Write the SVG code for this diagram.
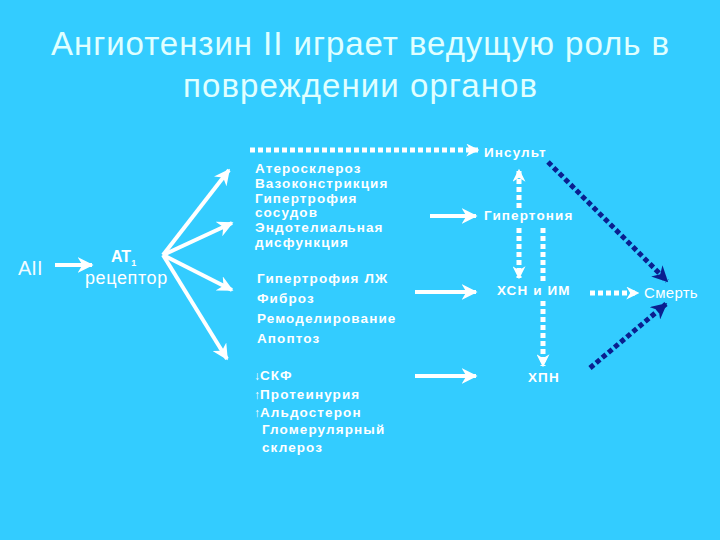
<svg xmlns="http://www.w3.org/2000/svg" width="720" height="540" viewBox="0 0 720 540">
<defs>
<marker id="wh" viewBox="0 0 10 10" refX="9" refY="5" markerWidth="4" markerHeight="4" markerUnits="strokeWidth" orient="auto"><path d="M0,0 L10,5 L0,10 L3,5 z" fill="#ffffff"/></marker>
<marker id="wh2" viewBox="0 0 10 10" refX="9" refY="5" markerWidth="2.6" markerHeight="2.6" markerUnits="strokeWidth" orient="auto"><path d="M0,0 L10,5 L0,10 L3,5 z" fill="#ffffff"/></marker>
<marker id="bl" viewBox="0 0 10 10" refX="9" refY="5" markerWidth="3.2" markerHeight="3.2" markerUnits="strokeWidth" orient="auto"><path d="M0,0 L10,5 L0,10 L3,5 z" fill="#0a1f8f"/></marker>
</defs>
<style>
.t{font-family:"Liberation Sans",Arial,sans-serif;fill:#ffffff}
.b{font-size:13.5px;font-weight:bold;letter-spacing:1.1px}
.title{font-family:"Liberation Sans",Arial,sans-serif;font-size:33px;fill:#e0ffff;text-anchor:middle}
.a{stroke:#ffffff;stroke-width:4;fill:none;marker-end:url(#wh)}
.d{stroke:#ffffff;stroke-width:5;stroke-dasharray:5 3;fill:none;marker-end:url(#wh2)}
.dv{stroke:#ffffff;stroke-width:5;stroke-dasharray:5 3;fill:none}
.n{stroke:#0a1f8f;stroke-width:5;stroke-dasharray:5 3;fill:none;marker-end:url(#bl)}
</style>
<rect width="720" height="540" fill="#33ccff"/>
<g id="title">
<text class="title" x="360" y="55" textLength="618" lengthAdjust="spacing">Ангиотензин II играет ведущую роль в</text>
<text class="title" x="360" y="97" textLength="354" lengthAdjust="spacing">повреждении органов</text>
</g>
<g id="connectors">
<line class="a" x1="55" y1="265" x2="92" y2="265"/>
<line class="a" x1="163" y1="255" x2="229" y2="170"/>
<line class="a" x1="163" y1="255" x2="232" y2="223"/>
<line class="a" x1="163" y1="255" x2="232" y2="290"/>
<line class="a" x1="163" y1="255" x2="227" y2="359"/>
<line class="d" x1="250" y1="150" x2="478" y2="150"/>
<line class="a" x1="430" y1="216" x2="476" y2="216"/>
<line class="a" x1="415" y1="292" x2="476" y2="292"/>
<line class="a" x1="415" y1="376" x2="476" y2="376"/>
<line class="d" x1="519" y1="208" x2="519" y2="170"/>
<line class="d" x1="519" y1="228" x2="519" y2="278"/>
<line class="dv" x1="543" y1="228" x2="543" y2="282"/>
<line class="d" x1="543" y1="301" x2="543" y2="366"/>
<line class="d" x1="590" y1="293" x2="638" y2="293"/>
<line class="n" x1="548" y1="162" x2="667" y2="281"/>
<line class="n" x1="590" y1="368" x2="666" y2="304"/>
</g>
<g id="AII"><text class="t" x="18" y="275" font-size="20" fill-opacity="0.95">AII</text></g>
<g id="AT1"><text class="t" x="111" y="262" font-size="16" font-weight="bold">AT<tspan font-size="9" dy="4">1</tspan></text>
<text class="t" x="85" y="284" font-size="18" letter-spacing="0.6">рецептор</text></g>
<g id="vessels">
<text class="t b" x="255" y="173">Атеросклероз</text>
<text class="t b" x="255" y="188">Вазоконстрикция</text>
<text class="t b" x="255" y="203">Гипертрофия</text>
<text class="t b" x="255" y="217">сосудов</text>
<text class="t b" x="255" y="232">Эндотелиальная</text>
<text class="t b" x="255" y="247">дисфункция</text>
</g>
<g id="heart">
<text class="t b" x="257" y="283">Гипертрофия ЛЖ</text>
<text class="t b" x="257" y="303">Фиброз</text>
<text class="t b" x="257" y="323">Ремоделирование</text>
<text class="t b" x="257" y="343">Апоптоз</text>
</g>
<g id="kidney">
<text class="t b" x="254" y="380"><tspan font-size="12" letter-spacing="0">↓</tspan>СКФ</text>
<text class="t b" x="254" y="399"><tspan font-size="12" letter-spacing="0">↑</tspan>Протеинурия</text>
<text class="t b" x="254" y="417"><tspan font-size="12" letter-spacing="0">↑</tspan>Альдостерон</text>
<text class="t b" x="262" y="434">Гломерулярный</text>
<text class="t b" x="262" y="452">склероз</text>
</g>
<g id="stroke"><text class="t b" x="484" y="157" font-size="13" letter-spacing="0.5">Инсульт</text></g>
<g id="hypertension"><text class="t b" x="484" y="220" font-size="13" letter-spacing="0.5">Гипертония</text></g>
<g id="chf"><text class="t b" x="497" y="295" font-size="13" letter-spacing="0.3">ХСН и ИМ</text></g>
<g id="ckd"><text class="t b" x="528" y="382" font-size="13">ХПН</text></g>
<g id="death"><text class="t" x="644" y="298" font-size="15" letter-spacing="0.3">Смерть</text></g>
</svg>
